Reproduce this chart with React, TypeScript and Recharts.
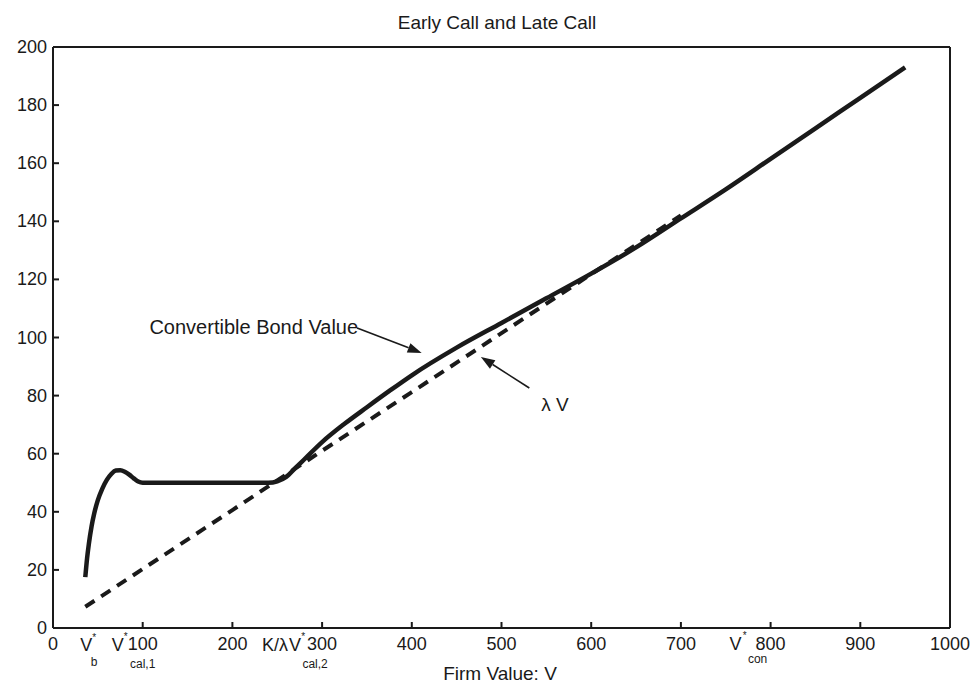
import React from 'react';
import { LineChart, Line, XAxis, YAxis, ReferenceLine } from 'recharts';

// firm value V and convertible bond value
const bondV = [36, 38, 40, 43, 46, 50, 55, 60, 65, 70, 75, 80, 85, 90, 95, 100, 150, 200, 240, 250, 260, 270, 280, 300, 325, 350, 375, 400, 450, 500, 550, 600, 650, 700, 750, 800, 850, 900, 950];
const bondValue = [17.5, 24, 29, 35, 39.5, 44, 48, 51, 53, 54.2, 54.3, 53.8, 52.8, 51.5, 50.4, 50, 50, 50, 50, 50.5, 52, 55, 58, 64, 70.3, 76, 81.6, 87, 96.5, 105, 113.5, 122, 131, 141, 151, 161.5, 172, 182.5, 193];

// lambda * V (dashed)
const lambdaV = [36, 100, 200, 300, 400, 500, 600, 700];
const lambdaValue = [7.3, 20.3, 40.6, 61, 81.2, 101.5, 121.8, 142];

const xTicks = [0, 37, 100, 200, 300, 400, 500, 600, 700, 800, 900, 1000];
const yTicks = [0, 20, 40, 60, 80, 100, 120, 140, 160, 180, 200];
const topTicks = [100, 200, 300, 400, 500, 600, 700, 800, 900];

const bondData = bondV.map((v, i) => ({ v, y: bondValue[i] }));
const lambdaData = lambdaV.map((v, i) => ({ v, y: lambdaValue[i] }));

const FONT = '"Liberation Sans", Arial, sans-serif';
const INK = '#1a1a1a';

const XTick = (props: any) => {
  const { x, y, payload } = props;
  const v = payload.value;
  const num = { fontSize: 18, fill: INK, fontFamily: FONT, textAnchor: 'middle' as const };
  const sub = { fontSize: 12, fill: INK, fontFamily: FONT, textAnchor: 'middle' as const };
  const star = { fontSize: 10, fill: INK, fontFamily: FONT, textAnchor: 'middle' as const };
  if (v === 37) {
    return (
      <g>
        <text x={x} y={y + 23} {...num}>V</text>
        <text x={x + 8} y={y + 13} {...star}>*</text>
        <text x={x + 8} y={y + 38} {...sub}>b</text>
      </g>
    );
  }
  const mark = v > 0 && v < 1000 ? <line x1={x} x2={x} y1={y} y2={y - 6} stroke={INK} strokeWidth={2} /> : null;
  return (
    <g>
      {mark}
      <text x={x} y={y + 22} {...num}>{v}</text>
      {v === 100 && (
        <g>
          <text x={x - 25} y={y + 23} {...num}>V</text>
          <text x={x - 17} y={y + 12} {...star}>*</text>
          <text x={x} y={y + 40} {...sub}>cal,1</text>
        </g>
      )}
      {v === 300 && (
        <g>
          <text x={x - 34} y={y + 23} {...num} textAnchor="end">K/λ</text>
          <text x={x - 27} y={y + 23} {...num}>V</text>
          <text x={x - 19} y={y + 12} {...star}>*</text>
          <text x={x - 7} y={y + 40} {...sub}>cal,2</text>
        </g>
      )}
      {v === 800 && (
        <g>
          <text x={x - 35} y={y + 22} {...num}>V</text>
          <text x={x - 26} y={y + 11} {...star}>*</text>
          <text x={x - 13} y={y + 35} {...sub}>con</text>
        </g>
      )}
    </g>
  );
};

const YTick = (props: any) => {
  const { x, y, payload } = props;
  const v = payload.value;
  return (
    <g>
      {v > 0 && v < 200 && <line x1={x} x2={x + 6} y1={y} y2={y} stroke={INK} strokeWidth={2} />}
      <text x={x - 6} y={y + 6} fontSize={18} fill={INK} fontFamily={FONT} textAnchor="end">{v}</text>
    </g>
  );
};

const TopTick = (props: any) => {
  const { x, y } = props;
  return <line x1={x} x2={x} y1={y} y2={y + 6} stroke={INK} strokeWidth={2} />;
};

const RightTick = (props: any) => {
  const { x, y, payload } = props;
  if (payload.value <= 0 || payload.value >= 200) return <g />;
  return <line x1={x} x2={x - 6} y1={y} y2={y} stroke={INK} strokeWidth={2} />;
};

const arrowShape = (text: string, side: 'start' | 'below') => (p: any) => {
  const { x1, y1, x2, y2 } = p;
  const a = Math.atan2(y2 - y1, x2 - x1);
  const len = 14;
  const w = 5;
  const bx = x2 - len * Math.cos(a);
  const by = y2 - len * Math.sin(a);
  const px = -Math.sin(a) * w;
  const py = Math.cos(a) * w;
  return (
    <g>
      <line x1={x1} y1={y1} x2={bx} y2={by} stroke={INK} strokeWidth={1.6} />
      <polygon points={`${x2},${y2} ${bx + px},${by + py} ${bx - px},${by - py}`} fill={INK} />
      {side === 'start' ? (
        <text x={x1 + 1} y={y1 + 6} fontSize={20} fill={INK} fontFamily={FONT} textAnchor="end">{text}</text>
      ) : (
        <text x={x1 + 12} y={y1 + 23} fontSize={19} fill={INK} fontFamily={FONT}>{text}</text>
      )}
    </g>
  );
};

export default function App() {
  return (
    <div style={{ position: 'absolute', left: 0, top: 0, width: 976, height: 687, background: '#fff' }}>
      <div style={{ position: 'absolute', left: 0, width: 994, top: 12, textAlign: 'center', fontFamily: FONT, fontSize: 19, color: INK }}>
        Early Call and Late Call
      </div>
      <div style={{ position: 'absolute', left: 0, width: 1000, top: 663, textAlign: 'center', fontFamily: FONT, fontSize: 19, color: INK }}>
        Firm Value: V
      </div>
      <LineChart width={976} height={687} margin={{ top: 46, right: 25, bottom: 58, left: 52 }}>
        <XAxis
          xAxisId="b"
          type="number"
          dataKey="v"
          domain={[0, 1000]}
          ticks={xTicks}
          interval={0}
          height={1}
          tickLine={false}
          tickSize={0}
          tickMargin={0}
          axisLine={{ stroke: INK, strokeWidth: 2 }}
          tick={<XTick />}
          allowDataOverflow
        />
        <XAxis
          xAxisId="t"
          orientation="top"
          type="number"
          dataKey="v"
          domain={[0, 1000]}
          ticks={topTicks}
          interval={0}
          height={1}
          tickLine={false}
          tickSize={0}
          tickMargin={0}
          axisLine={{ stroke: INK, strokeWidth: 2 }}
          tick={<TopTick />}
        />
        <YAxis
          yAxisId="l"
          type="number"
          domain={[0, 200]}
          ticks={yTicks}
          interval={0}
          width={1}
          tickLine={false}
          tickSize={0}
          tickMargin={0}
          axisLine={{ stroke: INK, strokeWidth: 2 }}
          tick={<YTick />}
        />
        <YAxis
          yAxisId="r"
          orientation="right"
          type="number"
          domain={[0, 200]}
          ticks={yTicks}
          interval={0}
          width={1}
          tickLine={false}
          tickSize={0}
          tickMargin={0}
          axisLine={{ stroke: INK, strokeWidth: 2 }}
          tick={<RightTick />}
        />
        <Line
          xAxisId="b"
          yAxisId="l"
          data={lambdaData}
          dataKey="y"
          type="linear"
          stroke={INK}
          strokeWidth={4}
          strokeDasharray="11 8"
          dot={false}
          isAnimationActive={false}
        />
        <Line
          xAxisId="b"
          yAxisId="l"
          data={bondData}
          dataKey="y"
          type="monotone"
          stroke={INK}
          strokeWidth={4.5}
          dot={false}
          isAnimationActive={false}
        />
        <ReferenceLine
          xAxisId="b"
          yAxisId="l"
          segment={[{ x: 339, y: 103.3 }, { x: 411, y: 94.7 }]}
          shape={arrowShape('Convertible Bond Value', 'start')}
        />
        <ReferenceLine
          xAxisId="b"
          yAxisId="l"
          segment={[{ x: 531, y: 82.6 }, { x: 477, y: 93.3 }]}
          shape={arrowShape('λ V', 'below')}
        />
      </LineChart>
    </div>
  );
}
